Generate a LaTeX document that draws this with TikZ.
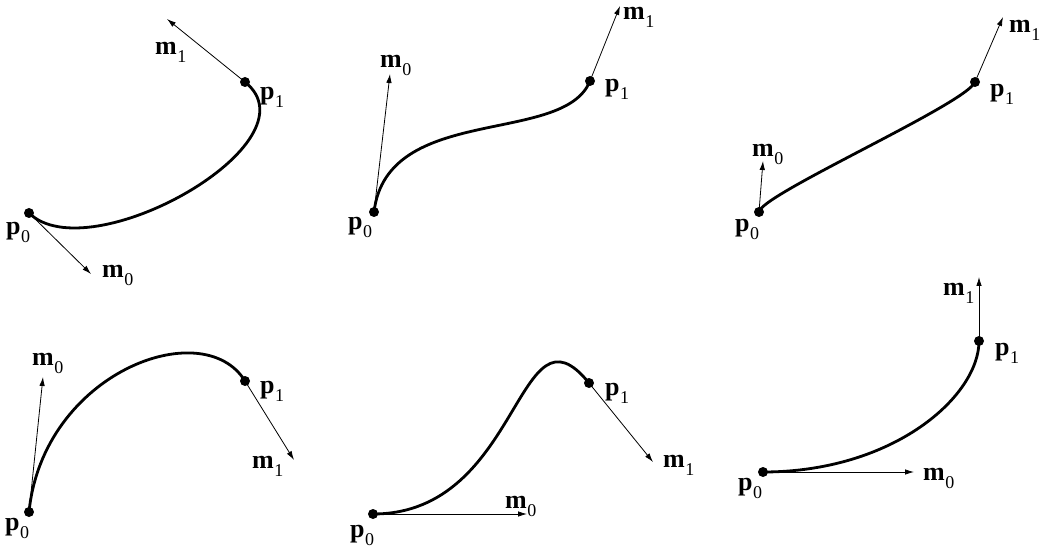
\documentclass[tikz,border=0pt]{standalone}
\usepackage{fontspec}
\setmainfont{Liberation Serif}
\usetikzlibrary{arrows.meta}
\newcommand\vlab[2]{\textbf{#1}\kern0.5pt\raisebox{-8pt}{\fontsize{18pt}{18pt}\selectfont #2}}
\begin{document}
\begin{tikzpicture}[x=1pt,y=-1pt,
  dot/.style={circle,fill=black,inner sep=0pt,minimum size=10pt},
  curve/.style={line width=2.8pt},
  tang/.style={line width=0.8pt,-{Latex[length=9pt,width=5.5pt]}},
  lab/.style={anchor=base west,inner sep=0pt,font=\fontsize{26pt}{26pt}\selectfont}]
\useasboundingbox (0,0) rectangle (1042,548);
% Panel 1
\node[dot] (p0a) at (29,213) {};
\node[dot] (p1a) at (245,82) {};
\coordinate (m0a) at (91,274);
\coordinate (m1a) at (167,19);
\draw[curve] (p0a.center) .. controls (89,272) and (320,142) .. (p1a.center);
\draw[tang] (p0a.center) -- (m0a);
\draw[tang] (p1a.center) -- (m1a);
\node[lab] (lp0a) at (6,235) {\vlab{p}{0}};
\node[lab] (lp1a) at (260,100) {\vlab{p}{1}};
\node[lab] (lm0a) at (102,278) {\vlab{m}{0}};
\node[lab] (lm1a) at (155,55) {\vlab{m}{1}};
% Panel 2
\node[dot] (p0b) at (374,212) {};
\node[dot] (p1b) at (590,81) {};
\coordinate (m0b) at (390,74);
\coordinate (m1b) at (620,6);
\draw[curve] (p0b.center) .. controls (387,103) and (564,146) .. (p1b.center);
\draw[tang] (p0b.center) -- (m0b);
\draw[tang] (p1b.center) -- (m1b);
\node[lab] (lp0b) at (348,230) {\vlab{p}{0}};
\node[lab] (lp1b) at (605,92) {\vlab{p}{1}};
\node[lab] (lm0b) at (380,68) {\vlab{m}{0}};
\node[lab] (lm1b) at (623,20) {\vlab{m}{1}};
% Panel 3
\node[dot] (p0c) at (759,212) {};
\node[dot] (p1c) at (975,82) {};
\coordinate (m0c) at (763,161);
\coordinate (m1c) at (1003,17);
\draw[curve] (p0c.center) .. controls (760,195) and (966,104) .. (p1c.center);
\draw[tang] (p0c.center) -- (m0c);
\draw[tang] (p1c.center) -- (m1c);
\node[lab] (lp0c) at (735,232) {\vlab{p}{0}};
\node[lab] (lp1c) at (990,97) {\vlab{p}{1}};
\node[lab] (lm0c) at (752,157) {\vlab{m}{0}};
\node[lab] (lm1c) at (1009,33) {\vlab{m}{1}};
% Panel 4
\node[dot] (p0d) at (29,512) {};
\node[dot] (p1d) at (245,381) {};
\coordinate (m0d) at (43,377);
\coordinate (m1d) at (294,460);
\draw[curve] (p0d.center) .. controls (43,373) and (203,313) .. (p1d.center);
\draw[tang] (p0d.center) -- (m0d);
\draw[tang] (p1d.center) -- (m1d);
\node[lab] (lp0d) at (5,530) {\vlab{p}{0}};
\node[lab] (lp1d) at (260,393) {\vlab{p}{1}};
\node[lab] (lm0d) at (32,365) {\vlab{m}{0}};
\node[lab] (lm1d) at (252,468) {\vlab{m}{1}};
% Panel 5
\node[dot] (p0e) at (373,514) {};
\node[dot] (p1e) at (589,383) {};
\coordinate (m0e) at (527,514);
\coordinate (m1e) at (653,462);
\draw[curve] (p0e.center) .. controls (522,514) and (517,294) .. (p1e.center);
\draw[tang] (p0e.center) -- (m0e);
\draw[tang] (p1e.center) -- (m1e);
\node[lab] (lp0e) at (350,537) {\vlab{p}{0}};
\node[lab] (lp1e) at (605,395) {\vlab{p}{1}};
\node[lab] (lm0e) at (505,508) {\vlab{m}{0}};
\node[lab] (lm1e) at (663,467) {\vlab{m}{1}};
% Panel 6
\node[dot] (p0f) at (763,472) {};
\node[dot] (p1f) at (979,341) {};
\coordinate (m0f) at (914,472);
\coordinate (m1f) at (979,277);
\draw[curve] (p0f.center) .. controls (894,472) and (979,396) .. (p1f.center);
\draw[tang] (p0f.center) -- (m0f);
\draw[tang] (p1f.center) -- (m1f);
\node[lab] (lp0f) at (738,490) {\vlab{p}{0}};
\node[lab] (lp1f) at (995,355) {\vlab{p}{1}};
\node[lab] (lm0f) at (923,480) {\vlab{m}{0}};
\node[lab] (lm1f) at (943,295) {\vlab{m}{1}};
\end{tikzpicture}
\end{document}
